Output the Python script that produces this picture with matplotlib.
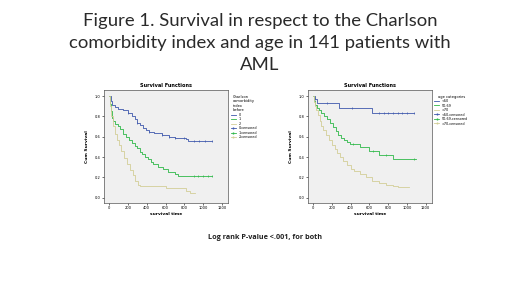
import numpy as np
import matplotlib
matplotlib.use("Agg")
import matplotlib.pyplot as plt
from matplotlib.lines import Line2D

# Charlson comorbidity index curves (time, cumulative survival)
cci0_t = [0, 15, 30, 60, 90, 150, 200, 240, 270, 300, 330, 360, 390, 420, 480, 560, 640, 700, 820, 840]
cci0_s = [1.0, 0.95, 0.91, 0.89, 0.87, 0.86, 0.83, 0.80, 0.77, 0.74, 0.72, 0.69, 0.67, 0.65, 0.64, 0.62, 0.60, 0.59, 0.58, 0.56]
cci0_end = 1090
cci0_cens = [200, 300, 420, 560, 640, 700, 800, 900, 960, 1020, 1090]

cci1_t = [0, 10, 20, 30, 45, 60, 90, 120, 150, 180, 210, 240, 270, 300, 330, 350, 380, 410, 440, 470, 520, 570, 630, 700, 730]
cci1_s = [1.0, 0.92, 0.85, 0.78, 0.75, 0.73, 0.71, 0.68, 0.63, 0.60, 0.57, 0.54, 0.51, 0.49, 0.45, 0.43, 0.40, 0.38, 0.35, 0.33, 0.30, 0.28, 0.25, 0.23, 0.21]
cci1_end = 1090
cci1_cens = [900, 950, 1000, 1050, 1090]

cci2_t = [0, 10, 20, 40, 60, 80, 100, 130, 160, 190, 220, 250, 280, 310, 330, 600, 820, 860]
cci2_s = [1.0, 0.90, 0.80, 0.71, 0.63, 0.57, 0.52, 0.46, 0.39, 0.33, 0.27, 0.22, 0.17, 0.13, 0.12, 0.10, 0.07, 0.05]
cci2_end = 910
cci2_cens = []

# age category curves
age1_t = [0, 25, 40, 280, 630]
age1_s = [1.0, 0.97, 0.93, 0.88, 0.83]
age1_end = 1076
age1_cens = [25, 150, 420, 700, 760, 800, 850, 900, 950, 1000, 1076]

age2_t = [0, 10, 25, 40, 60, 90, 120, 150, 180, 210, 240, 270, 300, 330, 360, 390, 500, 600, 700, 850]
age2_s = [1.0, 0.95, 0.91, 0.88, 0.86, 0.83, 0.80, 0.77, 0.74, 0.70, 0.66, 0.62, 0.59, 0.57, 0.55, 0.53, 0.50, 0.46, 0.42, 0.38]
age2_end = 1094
age2_cens = [430, 640, 780, 1080]

age3_t = [0, 10, 20, 35, 50, 70, 90, 110, 140, 170, 200, 230, 260, 290, 320, 360, 400, 440, 500, 560, 630, 700, 780, 850, 900]
age3_s = [1.0, 0.94, 0.90, 0.86, 0.81, 0.75, 0.71, 0.67, 0.62, 0.57, 0.52, 0.48, 0.44, 0.40, 0.36, 0.32, 0.28, 0.26, 0.23, 0.20, 0.17, 0.15, 0.13, 0.12, 0.11]
age3_end = 1024
age3_cens = []

cci_labels = ["0", "1", "2"]
age_labels = ["<50", "50-69", ">70"]

colors = ["#3E58AC", "#2EB848", "#D3CE97"]


def km_curve(ax, t, s, end, cens, color):
    tt = list(t) + [end]
    ss = list(s) + [s[-1]]
    ax.step(tt, ss, where="post", color=color, lw=0.6)
    if cens:
        idx = np.searchsorted(t, cens, side="right") - 1
        ax.plot(cens, np.array(s)[idx], ls="none", marker="|", ms=2,
                mew=0.5, color=color)


def setup_axes(ax):
    ax.set_facecolor("#F0F0F0")
    ax.set_xlim(-55, 1265)
    ax.set_ylim(-0.05, 1.06)
    ax.set_xticks(range(0, 1201, 200))
    ax.set_yticks([0, 0.2, 0.4, 0.6, 0.8, 1.0])
    ax.set_yticklabels(["0.0", "0.2", "0.4", "0.6", "0.8", "1.0"])
    ax.tick_params(labelsize=2.6, length=1.5, width=0.4, pad=1)
    for sp in ax.spines.values():
        sp.set_linewidth(0.5)
        sp.set_color("#555555")
    ax.set_title("Survival Functions", fontsize=3.6, fontweight="bold", pad=2)
    ax.set_xlabel("survival time", fontsize=3.2, fontweight="bold", labelpad=1.5)
    ax.set_ylabel("Cum Survival", fontsize=3.2, fontweight="bold", labelpad=4)


def add_legend(ax, labels, title):
    handles = [Line2D([], [], color=c, lw=0.6) for c in colors]
    handles += [Line2D([], [], color=c, lw=0.6, marker="|", ms=2) for c in colors]
    names = list(labels) + [l + "-censored" for l in labels]
    ax.legend(handles, names, title=title, loc="upper left",
              bbox_to_anchor=(1.01, 0.97), fontsize=2.4, title_fontsize=2.6,
              frameon=False, handlelength=1.5, labelspacing=0.15,
              borderaxespad=0)


fig = plt.figure(figsize=(5.2, 2.92), dpi=100)

fig.text(0.5, 0.955, "Figure 1. Survival in respect to the Charlson\n"
         "comorbidity index and age in 141 patients with\nAML",
         ha="center", va="top", fontsize=13.3, family="Lato",
         color="#2a2a2a", linespacing=1.45)

ax1 = fig.add_axes([0.2, 0.305, 0.2385, 0.387])
setup_axes(ax1)
km_curve(ax1, cci0_t, cci0_s, cci0_end, cci0_cens, colors[0])
km_curve(ax1, cci1_t, cci1_s, cci1_end, cci1_cens, colors[1])
km_curve(ax1, cci2_t, cci2_s, cci2_end, cci2_cens, colors[2])
add_legend(ax1, cci_labels, "Charlson\ncomorbidity\nindex\nbefore")

ax2 = fig.add_axes([0.592, 0.305, 0.2385, 0.387])
setup_axes(ax2)
km_curve(ax2, age1_t, age1_s, age1_end, age1_cens, colors[0])
km_curve(ax2, age2_t, age2_s, age2_end, age2_cens, colors[1])
km_curve(ax2, age3_t, age3_s, age3_end, age3_cens, colors[2])
add_legend(ax2, age_labels, "age categories")

fig.text(0.51, 0.188, "Log rank P-value <.001, for both", ha="center",
         va="center", fontsize=5.2, fontweight="bold", family="Open Sans",
         color="#222222")

fig.savefig("out.png", dpi=100)
